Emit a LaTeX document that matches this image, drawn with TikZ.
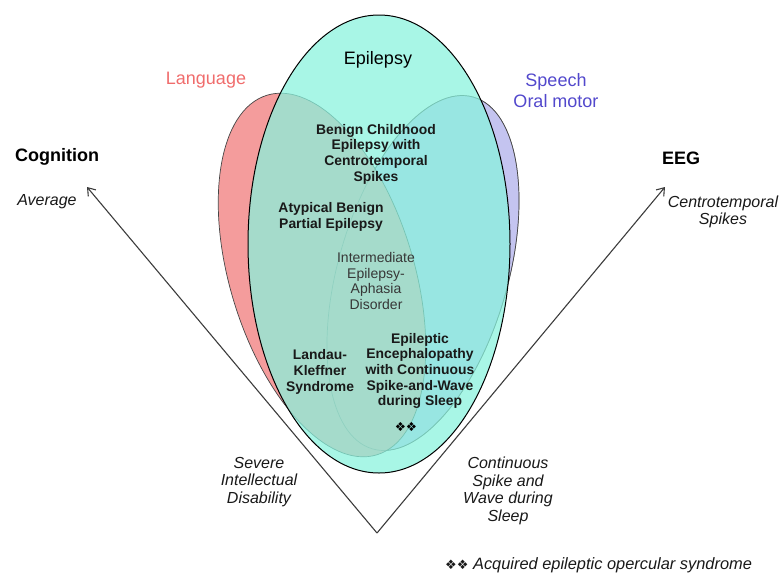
\documentclass[tikz,border=0pt]{standalone}
\usepackage{fontspec}
\setmainfont{Liberation Sans}
\newfontfamily\dingfont{DejaVu Sans}
\usetikzlibrary{arrows.meta,shapes.geometric}

\definecolor{langfill}{RGB}{244,156,156}
\definecolor{langtext}{RGB}{240,108,108}
\definecolor{speechfill}{RGB}{196,196,240}
\definecolor{speechtext}{RGB}{82,72,204}
\definecolor{epifill}{RGB}{136,243,221}
\definecolor{rimgray}{RGB}{70,70,70}
\definecolor{axisgray}{RGB}{60,60,60}
\definecolor{inktext}{RGB}{25,25,25}
\definecolor{softtext}{RGB}{55,55,55}

\tikzset{
  blob/.style={ellipse, inner sep=0pt, outer sep=0pt},
  domaintitle/.style={font=\fontsize{18}{20}\selectfont},
  axistitle/.style={font=\bfseries\fontsize{18}{20}\selectfont, text=black},
  axislabel/.style={font=\itshape\fontsize{16}{17.5}\selectfont, text=inktext, align=center},
  syndrome/.style={font=\bfseries\fontsize{13.9}{15.7}\selectfont, text=inktext, align=center},
  softsyndrome/.style={font=\fontsize{14}{15.4}\selectfont, text=softtext, align=center},
  axisline/.style={draw=axisgray, line width=1.1pt, -{Straight Barb[length=7pt,width=10pt,line width=1.1pt]}},
}

\begin{document}
\begin{tikzpicture}[x=1pt,y=-1pt]
  \useasboundingbox (0,0) rectangle (782,574);

  % overlapping domains
  \node[blob, fill=speechfill, draw=rimgray, line width=0.7pt,
        minimum width=170pt, minimum height=366pt, rotate=-16] (speech) at (423,273) {};
  \node[blob, fill=langfill, draw=rimgray, line width=0.7pt,
        minimum width=184pt, minimum height=376pt, rotate=17] (lang) at (322,275) {};
  \node[blob, draw=rimgray, draw opacity=0.45, line width=0.7pt,
        minimum width=170pt, minimum height=366pt, rotate=-16] (speechrim) at (423,273) {};
  \node[blob, fill=epifill, fill opacity=0.73, draw=black, line width=1pt,
        minimum width=262pt, minimum height=458pt] (epi) at (379,244) {};

  % axes
  \coordinate (vertex) at (377,533);
  \coordinate (cogtip) at (87,187);
  \coordinate (eegtip) at (665,187);
  \draw[axisline] (vertex) -- (cogtip);
  \draw[axisline] (vertex) -- (eegtip);

  % domain titles
  \node[domaintitle, text=black] (epititle) at (378,60) {Epilepsy};
  \node[domaintitle, text=langtext] (langtitle) at (206,80) {Language};
  \node[text=speechtext, align=center, font=\fontsize{18}{21}\selectfont] (speechtitle) at (556,91) {Speech\\Oral motor};

  % axis titles and ends
  \node[axistitle] (cog) at (57,157) {Cognition};
  \node[axislabel] (avg) at (47,202) {Average};
  \node[axistitle] (eeg) at (681,158) {EEG};
  \node[axislabel] (cts) at (723,212) {Centrotemporal\\Spikes};
  \node[axislabel] (sid) at (259,482) {Severe\\Intellectual\\Disability};
  \node[axislabel] (cswss) at (508,491) {Continuous\\Spike and\\Wave during\\Sleep};

  % syndromes
  \node[syndrome] (bects) at (376,154) {Benign Childhood\\Epilepsy with\\Centrotemporal\\Spikes};
  \node[syndrome] (abpe) at (331,217) {Atypical Benign\\Partial Epilepsy};
  \node[softsyndrome] (ieap) at (376,281) {Intermediate\\Epilepsy-\\Aphasia\\Disorder};
  \node[syndrome] (lks) at (320,372) {Landau-\\Kleffner\\Syndrome};
  \node[syndrome] (ecsws) at (420,371) {Epileptic\\Encephalopathy\\with Continuous\\Spike-and-Wave\\during Sleep};
  \node[font=\dingfont\fontsize{12.5}{13}\selectfont, text=black, inner sep=0pt] (mark) at (406,427) {❖❖};

  % legend
  \node[anchor=west, inner sep=0pt, font=\itshape\fontsize{16.4}{18}\selectfont, text=inktext] (legend) at (445,565)
    {{\dingfont\upshape\fontsize{13}{14}\selectfont ❖❖} Acquired epileptic opercular syndrome};
\end{tikzpicture}
\end{document}
